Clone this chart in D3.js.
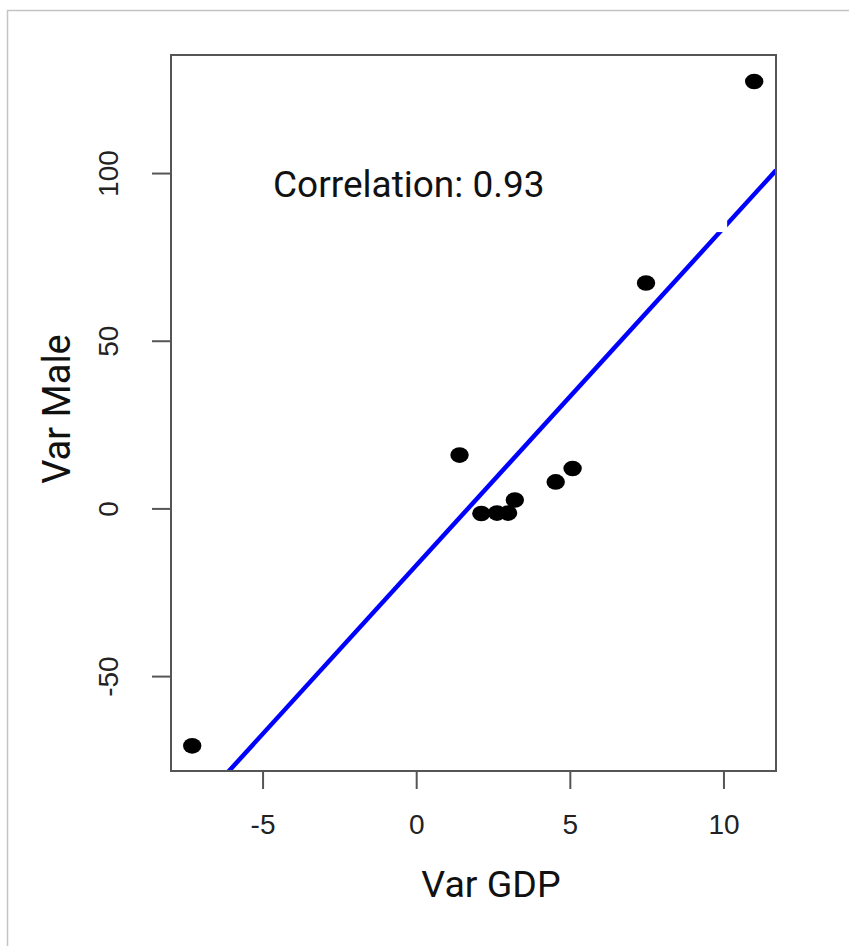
<!DOCTYPE html>
<html>
<head>
<meta charset="utf-8">
<script src="https://cdn.jsdelivr.net/npm/d3@7"></script>
<style>
  html, body { margin: 0; padding: 0; background: #fff; }
  svg { display: block; }
</style>
</head>
<body>
<svg id="chart" width="849" height="946"></svg>
<script>
// ---- data ----
const varGDP  = [-7.29, 1.41, 2.12, 2.63, 2.99, 3.21, 4.54, 5.09, 7.48, 11.0];
const varMale = [-70.8, 15.9, -1.5, -1.4, -1.4, 2.5, 7.9, 11.9, 67.2, 127.3];
const fitLine = [-17.0, 10.06]; // intercept, slope
const xTicks = [-5, 0, 5, 10];
const yTicks = [-50, 0, 50, 100];
const corrLabel = ["Correlation: 0.93"];
const axisTitles = ["Var GDP", "Var Male"];

const svg = d3.select("#chart");
const pL = 171, pR = 776, pT = 55, pB = 771;

const x = d3.scaleLinear().domain([-7.98, 11.71]).range([pL, pR]);
const y = d3.scaleLinear().domain([-78.3, 135.2]).range([pB, pT]);

// outer frame
svg.append("path")
  .attr("d", "M7.5,946 L7.5,10.5 L849,10.5")
  .attr("fill", "none").attr("stroke", "#c4c4c4").attr("stroke-width", 1.5);

// clip
svg.append("clipPath").attr("id", "clip")
  .append("rect").attr("x", pL).attr("y", pT)
  .attr("width", pR - pL).attr("height", pB - pT);

// regression line
const xd = x.domain();
svg.append("line")
  .attr("clip-path", "url(#clip)")
  .attr("x1", x(xd[0])).attr("y1", y(fitLine[0] + fitLine[1] * xd[0]))
  .attr("x2", x(xd[1])).attr("y2", y(fitLine[0] + fitLine[1] * xd[1]))
  .attr("stroke", "#0000ff").attr("stroke-width", 4.5);

// small white mask artefact seen in the reference
svg.append("rect")
  .attr("x", x(9.5)).attr("y", y(92))
  .attr("width", x(10.12) - x(9.5)).attr("height", y(82.4) - y(92))
  .attr("fill", "#fff");

// points
svg.append("g").selectAll("ellipse")
  .data(varGDP.map((v, i) => [v, varMale[i]]))
  .join("ellipse")
  .attr("cx", d => x(d[0])).attr("cy", d => y(d[1]))
  .attr("rx", 9.2).attr("ry", 7.8)
  .attr("fill", "#000");

// axes
const xAxis = d3.axisBottom(x).tickValues(xTicks).tickSize(18).tickPadding(25)
  .tickFormat(d3.format("d"));
const gx = svg.append("g").attr("transform", `translate(0,${pB})`).call(xAxis);
gx.select(".domain").remove();
gx.selectAll(".tick line").attr("stroke", "#555").attr("stroke-width", 2);
gx.selectAll(".tick text")
  .attr("font-family", "'Liberation Sans', Arial, sans-serif")
  .attr("font-size", 28).attr("fill", "#222").attr("dy", "0.71em")
  .text(d => d < 0 ? "-" + Math.abs(d) : d);

const yAxis = d3.axisLeft(y).tickValues(yTicks).tickSize(19).tickPadding(0);
const gy = svg.append("g").attr("transform", `translate(${pL},0)`).call(yAxis);
gy.select(".domain").remove();
gy.selectAll(".tick line").attr("stroke", "#555").attr("stroke-width", 2);
gy.selectAll(".tick text")
  .attr("font-family", "'Liberation Sans', Arial, sans-serif")
  .attr("font-size", 28).attr("fill", "#222")
  .attr("x", null).attr("dy", null)
  .attr("text-anchor", "middle")
  .attr("transform", "translate(-53,0) rotate(-90)")
  .text(d => d < 0 ? "-" + Math.abs(d) : d);

// plot box
svg.append("rect")
  .attr("x", pL).attr("y", pT)
  .attr("width", pR - pL).attr("height", pB - pT)
  .attr("fill", "none").attr("stroke", "#555").attr("stroke-width", 2);

// correlation label
svg.append("text")
  .attr("x", 273).attr("y", 197)
  .attr("font-family", "Roboto, sans-serif").attr("font-size", 37)
  .attr("fill", "#111")
  .text(corrLabel[0]);

// axis titles
svg.append("text")
  .attr("x", 491).attr("y", 897)
  .attr("text-anchor", "middle")
  .attr("font-family", "Roboto, sans-serif").attr("font-size", 37.5)
  .attr("fill", "#111")
  .text(axisTitles[0]);

svg.append("text")
  .attr("transform", `translate(70,409) rotate(-90)`)
  .attr("text-anchor", "middle")
  .attr("font-family", "Roboto, sans-serif").attr("font-size", 38)
  .attr("fill", "#111")
  .text(axisTitles[1]);
</script>
</body>
</html>
